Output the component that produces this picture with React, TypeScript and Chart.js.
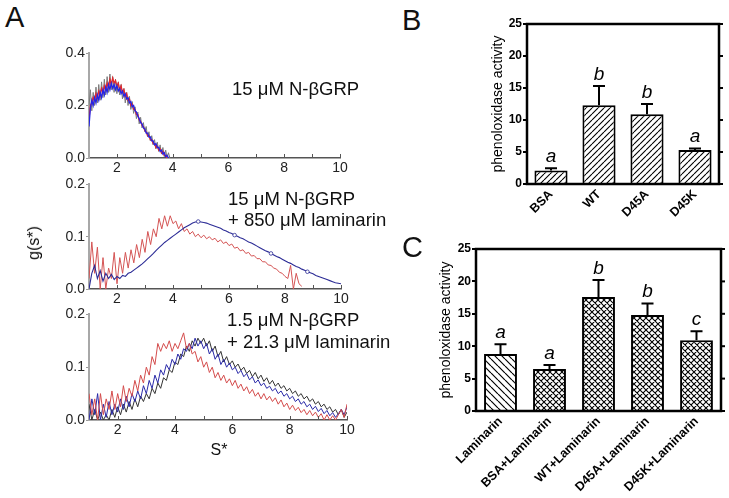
import React, { useEffect, useRef } from 'react';
import { Chart, registerables } from 'chart.js';
Chart.register(...registerables);

const FONT = "'Liberation Sans', Arial, Helvetica, sans-serif";
Chart.defaults.font.family = FONT;

// ---------- Panel A data (g(s*) vs S*) ----------
const TOP_START = 1.0;
const TOP_STEP = 0.05;
const TOP_BLUE = [0.12,0.19,0.22,0.2,0.23,0.21,0.24,0.22,0.25,0.23,0.26,0.24,0.27,0.25,0.28,0.26,0.285,0.265,0.28,0.26,0.275,0.255,0.265,0.245,0.255,0.235,0.245,0.225,0.23,0.21,0.215,0.195,0.2,0.18,0.175,0.16,0.15,0.135,0.13,0.115,0.11,0.095,0.095,0.08,0.08,0.065,0.065,0.05,0.055,0.04,0.04,0.025,0.03,0.015,0.02,0.005,0.01,0];
const TOP_RED = [0.15,0.2,0.21,0.23,0.22,0.245,0.23,0.255,0.24,0.265,0.25,0.275,0.26,0.285,0.27,0.3,0.28,0.305,0.285,0.295,0.275,0.285,0.26,0.275,0.25,0.26,0.235,0.245,0.22,0.225,0.2,0.205,0.185,0.185,0.165,0.165,0.145,0.14,0.125,0.12,0.105,0.1,0.085,0.085,0.07,0.07,0.055,0.055,0.04,0.045,0.03,0.035,0.02,0.025,0.01,0.01,0];
const TOP_BLACK = [0.2,0.26,0.18,0.25,0.2,0.27,0.21,0.28,0.22,0.29,0.23,0.3,0.24,0.31,0.25,0.32,0.26,0.31,0.25,0.3,0.245,0.29,0.24,0.28,0.225,0.265,0.21,0.25,0.2,0.235,0.185,0.215,0.17,0.195,0.15,0.175,0.13,0.155,0.115,0.135,0.1,0.12,0.08,0.1,0.065,0.085,0.05,0.07,0.035,0.06,0.025,0.05,0.015,0.04,0.005,0.03,0,0.02,0];

const FULL_START = 1.0;
const FULL_STEP = 0.1;
const MID_BLUE = [0,0.03,0.045,0.02,0.035,0.015,0.03,0.02,0.028,0.018,0.024,0.02,0.026,0.024,0.03,0.032,0.036,0.04,0.044,0.048,0.053,0.058,0.063,0.068,0.074,0.079,0.084,0.089,0.093,0.097,0.101,0.105,0.109,0.113,0.117,0.12,0.123,0.126,0.128,0.129,0.128,0.127,0.126,0.124,0.122,0.12,0.118,0.116,0.113,0.111,0.108,0.106,0.103,0.101,0.098,0.096,0.093,0.09,0.088,0.085,0.082,0.079,0.076,0.073,0.071,0.068,0.065,0.062,0.06,0.057,0.054,0.051,0.049,0.046,0.043,0.041,0.038,0.036,0.033,0.031,0.029,0.026,0.024,0.022,0.02,0.018,0.016,0.014,0.012,0.011,0.01];
const MID_RED = [0.02,0.09,0.03,0.08,0,0.06,0,0.04,0.02,0.07,0.01,0.06,0.03,0.07,0.04,0.075,0.05,0.085,0.06,0.095,0.07,0.11,0.085,0.115,0.1,0.135,0.115,0.14,0.12,0.14,0.125,0.13,0.115,0.125,0.11,0.115,0.105,0.11,0.1,0.105,0.098,0.103,0.096,0.1,0.094,0.097,0.09,0.094,0.087,0.09,0.083,0.086,0.078,0.08,0.073,0.075,0.068,0.07,0.063,0.064,0.058,0.058,0.052,0.052,0.046,0.045,0.04,0.038,0.032,0.03,0.024,0.02,0.045,0,0.03,0.01,0.005];

const BOT_RED = [0.05,0.01,0.04,0,0.05,0.01,0.04,0.02,0.055,0.02,0.05,0.025,0.065,0.035,0.06,0.045,0.075,0.055,0.085,0.07,0.1,0.085,0.12,0.105,0.145,0.13,0.145,0.135,0.15,0.13,0.145,0.135,0.15,0.165,0.135,0.145,0.125,0.13,0.11,0.12,0.1,0.11,0.09,0.1,0.08,0.09,0.075,0.085,0.07,0.078,0.065,0.075,0.06,0.068,0.055,0.063,0.05,0.058,0.045,0.052,0.04,0.05,0.038,0.045,0.035,0.042,0.03,0.038,0.025,0.032,0.02,0.028,0.018,0.024,0.014,0.02,0.01,0.018,0.008,0.015,0.005,0.012,0,0.01,0,0.008,0,0.01,0.02,0.005,0.03];
const BOT_BLUE = [0,0.04,0.01,0.05,0,0.03,0.005,0.035,0.01,0.03,0.015,0.04,0.02,0.045,0.025,0.05,0.035,0.055,0.04,0.065,0.05,0.075,0.06,0.085,0.07,0.095,0.085,0.105,0.095,0.115,0.105,0.125,0.115,0.135,0.13,0.145,0.135,0.155,0.14,0.15,0.135,0.145,0.125,0.135,0.115,0.125,0.105,0.115,0.1,0.108,0.095,0.1,0.088,0.094,0.082,0.088,0.076,0.082,0.07,0.076,0.065,0.07,0.06,0.064,0.055,0.06,0.05,0.055,0.045,0.05,0.04,0.045,0.035,0.04,0.03,0.035,0.025,0.03,0.02,0.026,0.016,0.022,0.012,0.018,0.008,0.014,0.005,0.012,0.02,0.01,0.025];
const BOT_BLACK = [0.03,0,0.02,0,0.015,0,0.01,0,0.02,0.005,0.025,0.01,0.03,0.015,0.035,0.02,0.04,0.025,0.045,0.035,0.05,0.04,0.06,0.05,0.07,0.06,0.08,0.075,0.095,0.09,0.11,0.105,0.125,0.12,0.14,0.13,0.15,0.14,0.155,0.145,0.155,0.14,0.15,0.13,0.14,0.12,0.13,0.11,0.12,0.105,0.112,0.1,0.106,0.094,0.1,0.088,0.094,0.082,0.09,0.078,0.085,0.073,0.08,0.068,0.075,0.064,0.07,0.06,0.065,0.055,0.06,0.05,0.055,0.045,0.05,0.04,0.045,0.035,0.04,0.03,0.035,0.025,0.03,0.02,0.025,0.015,0.02,0.01,0.02,0.005,0.015];

// ---------- Panel B / C data ----------
const B_CATEGORIES = ['BSA', 'WT', 'D45A', 'D45K'];
const B_VALUES = [2.1, 12.3, 10.9, 5.3];
const B_ERRORS = [0.35, 3.0, 1.6, 0.25];
const B_LETTERS = ['a', 'b', 'b', 'a'];

const C_CATEGORIES = ['Laminarin', 'BSA+Laminarin', 'WT+Laminarin', 'D45A+Laminarin', 'D45K+Laminarin'];
const C_VALUES = [8.8, 6.5, 17.6, 14.8, 10.9];
const C_ERRORS = [1.5, 0.6, 2.6, 1.8, 1.4];
const C_LETTERS = ['a', 'a', 'b', 'b', 'c'];

const toXY = (start: number, step: number, ys: number[]) =>
  ys.map((y, i) => ({ x: Math.round((start + i * step) * 1000) / 1000, y }));

// ---------- helpers ----------
function hatch(kind: 'fwd' | 'back' | 'cross', size: number, lw: number) {
  const c = document.createElement('canvas');
  c.width = size; c.height = size;
  const g = c.getContext('2d')!;
  g.fillStyle = '#fff';
  g.fillRect(0, 0, size, size);
  g.strokeStyle = '#000';
  g.lineWidth = lw;
  g.beginPath();
  if (kind === 'fwd' || kind === 'cross') {
    for (let k = -1; k <= 1; k++) {
      g.moveTo(k * size, size); g.lineTo(k * size + size, 0);
    }
  }
  if (kind === 'back' || kind === 'cross') {
    for (let k = -1; k <= 1; k++) {
      g.moveTo(k * size, 0); g.lineTo(k * size + size, size);
    }
  }
  g.stroke();
  return g.createPattern(c, 'repeat')!;
}

const inwardTicks = {
  id: 'inwardTicks',
  afterDraw(chart: any) {
    const xs = chart.scales.x;
    const { bottom } = chart.chartArea;
    const ctx = chart.ctx;
    ctx.save();
    ctx.strokeStyle = '#555';
    ctx.lineWidth = 1;
    xs.ticks.forEach((t: any) => {
      if (t.value <= xs.min) return;
      const px = Math.round(xs.getPixelForValue(t.value)) + 0.5;
      ctx.beginPath();
      ctx.moveTo(px, bottom);
      ctx.lineTo(px, bottom - 4);
      ctx.stroke();
    });
    ctx.restore();
  },
};

function lineConfig(datasets: any[], ymax: number, ystep: number, pad: any, xh: number) {
  return {
    type: 'line',
    data: { datasets },
    options: {
      animation: false,
      responsive: false,
      events: [],
      layout: { padding: pad },
      plugins: { legend: { display: false }, tooltip: { enabled: false } },
      elements: { point: { radius: 0 }, line: { tension: 0, borderWidth: 1 } },
      scales: {
        x: {
          type: 'linear', min: 1, max: 10,
          afterFit: (s: any) => { s.height = xh; },
          ticks: {
            stepSize: 1, autoSkip: false, maxRotation: 0, padding: 2,
            font: { size: 14 }, color: '#222',
            callback: (v: any) => (Number(v) % 2 === 0 ? String(v) : ''),
          },
          grid: { display: false, drawTicks: false },
          border: { display: true, color: '#555', width: 1.5 },
        },
        y: {
          min: 0, max: ymax,
          afterFit: (s: any) => { s.width = 89; },
          ticks: {
            stepSize: ystep, padding: 1, font: { size: 14 }, color: '#222',
            callback: (v: any) => Number(v).toFixed(1),
          },
          grid: { display: true, drawOnChartArea: false, tickLength: 3, color: '#999' },
          border: { display: true, color: '#a8a8a8', width: 2 },
        },
      },
    },
    plugins: [inwardTicks],
  };
}

function errorPlugin(errors: number[], letters: string[]) {
  return {
    id: 'errbars',
    afterDatasetsDraw(chart: any) {
      const ctx = chart.ctx;
      const ys = chart.scales.y;
      const meta = chart.getDatasetMeta(0);
      const vals = chart.data.datasets[0].data as number[];
      ctx.save();
      meta.data.forEach((bar: any, i: number) => {
        const x = bar.x;
        const y0 = ys.getPixelForValue(vals[i]);
        const y1 = ys.getPixelForValue(vals[i] + errors[i]);
        ctx.strokeStyle = '#000';
        ctx.lineWidth = 2;
        ctx.beginPath();
        ctx.moveTo(x, y0);
        ctx.lineTo(x, y1);
        ctx.moveTo(x - 6, y1);
        ctx.lineTo(x + 6, y1);
        ctx.stroke();
        ctx.fillStyle = '#000';
        ctx.font = `italic 19px ${FONT}`;
        ctx.textAlign = 'center';
        ctx.textBaseline = 'alphabetic';
        ctx.fillText(letters[i], x, y1 - 6);
      });
      ctx.restore();
    },
  };
}

const framePlugin = {
  id: 'frame',
  afterDraw(chart: any) {
    const ctx = chart.ctx;
    const { left, top, right, bottom } = chart.chartArea;
    const ys = chart.scales.y;
    ctx.save();
    ctx.strokeStyle = '#000';
    ctx.lineWidth = 2.5;
    ctx.strokeRect(left, top, right - left, bottom - top);
    ctx.lineWidth = 2;
    ys.ticks.forEach((t: any) => {
      const py = ys.getPixelForValue(t.value);
      ctx.beginPath();
      ctx.moveTo(right, py);
      ctx.lineTo(right + 4, py);
      ctx.stroke();
    });
    ctx.restore();
  },
};

function barConfig(labels: string[], values: number[], errors: number[], letters: string[], patterns: any[], pad: any, yw: number, xh: number, barPct: number) {
  return {
    type: 'bar',
    data: {
      labels,
      datasets: [{
        data: values,
        backgroundColor: patterns,
        borderColor: '#000',
        borderWidth: 2,
        barPercentage: barPct,
        categoryPercentage: 1,
      }],
    },
    options: {
      animation: false,
      responsive: false,
      events: [],
      layout: { padding: pad },
      plugins: { legend: { display: false }, tooltip: { enabled: false } },
      scales: {
        x: {
          afterFit: (s: any) => { s.height = xh; },
          ticks: { minRotation: 45, maxRotation: 45, autoSkip: false, padding: 3, color: '#000', font: { size: 12.5, weight: 'bold' } },
          grid: { display: false, drawTicks: false },
          border: { display: true, color: '#000', width: 2 },
        },
        y: {
          min: 0, max: 25,
          afterFit: (s: any) => { s.width = yw; },
          ticks: { stepSize: 5, padding: 1, color: '#000', font: { size: 12, weight: 'bold' } },
          grid: { display: true, drawOnChartArea: false, tickLength: 4, color: '#000', lineWidth: 2 },
          border: { display: true, color: '#000', width: 2 },
          title: { display: true, text: 'phenoloxidase activity', color: '#000', font: { size: 14 }, padding: 0 },
        },
      },
    },
    plugins: [errorPlugin(errors, letters), framePlugin],
  };
}

function ChartCanvas({ left, top, width, height, make }: { left: number; top: number; width: number; height: number; make: () => any }) {
  const ref = useRef<HTMLCanvasElement>(null);
  useEffect(() => {
    const chart = new Chart(ref.current!, make());
    return () => chart.destroy();
  }, []);
  return (
    <canvas
      ref={ref}
      width={width}
      height={height}
      style={{ position: 'absolute', left, top, width, height }}
    />
  );
}

function Txt({ left, top, size, children, style }: any) {
  return (
    <div style={{ position: 'absolute', left, top, fontSize: size, lineHeight: 1, fontFamily: FONT, color: '#111', whiteSpace: 'nowrap', ...style }}>
      {children}
    </div>
  );
}

export default function App() {
  const BLUE_TOP = '#2424e6';
  const RED_TOP = '#e6262b';
  const GRAY_TOP = '#7a7a7a';
  return (
    <div style={{ position: 'absolute', left: 0, top: 0, width: 729, height: 498, background: '#fff', overflow: 'hidden' }}>
      <ChartCanvas left={0} top={40} width={380} height={150} make={() => lineConfig([
        { data: toXY(TOP_START, TOP_STEP, TOP_BLUE), borderColor: BLUE_TOP, borderWidth: 1.3 },
        { data: toXY(TOP_START, TOP_STEP, TOP_RED), borderColor: RED_TOP, borderWidth: 1.3 },
        { data: toXY(TOP_START, TOP_STEP, TOP_BLACK), borderColor: GRAY_TOP, borderWidth: 1 },
      ], 0.4, 0.2, { top: 13, left: 0, right: 40, bottom: 15 }, 17)} />
      <ChartCanvas left={0} top={175} width={380} height={145} make={() => lineConfig([
        {
          data: toXY(FULL_START, FULL_STEP, MID_BLUE), borderColor: '#2c2c96', borderWidth: 1.1,
          pointRadius: (c: any) => (c.dataIndex >= 38 && c.dataIndex % 13 === 0 ? 1.8 : 0),
          pointBackgroundColor: '#fff', pointBorderColor: '#2c2c96', pointBorderWidth: 0.8,
        },
        { data: toXY(FULL_START, FULL_STEP, MID_RED), borderColor: '#d45454', borderWidth: 1 },
      ], 0.2, 0.1, { top: 9, left: 0, right: 39, bottom: 15 }, 16)} />
      <ChartCanvas left={0} top={305} width={380} height={150} make={() => lineConfig([
        { data: toXY(FULL_START, FULL_STEP, BOT_RED), borderColor: '#d44c4c', borderWidth: 1 },
        { data: toXY(FULL_START, FULL_STEP, BOT_BLUE), borderColor: '#2a2aa8', borderWidth: 1 },
        { data: toXY(FULL_START, FULL_STEP, BOT_BLACK), borderColor: '#333', borderWidth: 1 },
      ], 0.2, 0.1, { top: 9, left: 0, right: 33, bottom: 20 }, 15)} />

      <ChartCanvas left={460} top={0} width={269} height={240} make={() => barConfig(
        B_CATEGORIES, B_VALUES, B_ERRORS, B_LETTERS,
        B_CATEGORIES.map(() => hatch('fwd', 6, 1.1)),
        { left: 30, top: 24, right: 10, bottom: 0 }, 37, 56, 0.69)} />
      <ChartCanvas left={400} top={240} width={329} height={258} make={() => barConfig(
        C_CATEGORIES, C_VALUES, C_ERRORS, C_LETTERS,
        C_CATEGORIES.map((_, i) => (i === 0 ? hatch('back', 7, 1.2) : hatch('cross', 6, 1.1))),
        { left: 38, top: 9, right: 8, bottom: 0 }, 38, 87, 0.67)} />

      <Txt left={5} top={3} size={29}>A</Txt>
      <Txt left={402} top={6} size={29}>B</Txt>
      <Txt left={402} top={233} size={29}>C</Txt>

      <Txt left={232} top={79.5} size={18.5}>15 μM N-βGRP</Txt>
      <Txt left={228} top={189.5} size={18.5}>15 μM N-βGRP</Txt>
      <Txt left={228} top={211} size={18.5}>+ 850 μM laminarin</Txt>
      <Txt left={227} top={311} size={18.5}>1.5 μM N-βGRP</Txt>
      <Txt left={227} top={332.5} size={18.5}>+ 21.3 μM laminarin</Txt>

      <Txt left={34} top={243} size={16} style={{ transform: 'translate(-50%, -50%) rotate(-90deg)' }}>g(s*)</Txt>
      <Txt left={219} top={450} size={16} style={{ transform: 'translate(-50%, -50%)' }}>S*</Txt>
    </div>
  );
}
